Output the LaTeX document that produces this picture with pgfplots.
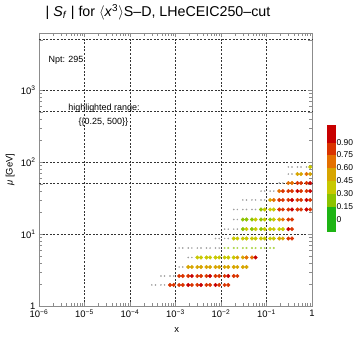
\documentclass[border=0pt]{standalone}
\usepackage{pgfplots}
\pgfplotsset{compat=1.18}
\usepackage{pgfplotstable}
\usepackage{fontspec}
\setmainfont{Liberation Sans}

% highlighted points: x, mu, |S_f|
\pgfplotstableread{
x mu v
0.0007586 1.96 0.82
0.000912 1.96 0.88
0.001202 1.96 0.86
0.001445 1.96 0.88
0.001905 1.96 0.90
0.002291 1.96 0.86
0.00302 1.96 0.87
0.003631 1.96 0.92
0.004786 1.96 0.88
0.005754 1.96 0.85
0.007586 1.96 0.90
0.00912 1.96 0.85
0.01202 1.96 0.86
0.01445 1.96 0.80
0.001202 2.61 0.84
0.001445 2.61 0.88
0.001905 2.61 0.86
0.002291 2.61 0.92
0.00302 2.61 0.87
0.003631 2.61 0.85
0.004786 2.61 0.88
0.005754 2.61 0.91
0.007586 2.61 0.86
0.00912 2.61 0.84
0.01202 2.61 0.88
0.01445 2.61 0.92
0.01905 2.61 0.85
0.02291 2.61 0.80
0.001905 3.48 0.47
0.002291 3.48 0.50
0.00302 3.48 0.48
0.003631 3.48 0.52
0.004786 3.48 0.47
0.005754 3.48 0.50
0.007586 3.48 0.49
0.00912 3.48 0.52
0.01202 3.48 0.48
0.01445 3.48 0.50
0.01905 3.48 0.47
0.02291 3.48 0.51
0.0302 3.48 0.49
0.03631 3.48 0.46
0.00302 4.72 0.40
0.003631 4.72 0.42
0.004786 4.72 0.38
0.005754 4.72 0.41
0.007586 4.72 0.40
0.00912 4.72 0.43
0.01202 4.72 0.40
0.01445 4.72 0.42
0.01905 4.72 0.44
0.02291 4.72 0.47
0.0302 4.72 0.55
0.03631 4.72 0.62
0.04786 4.72 0.72
0.05754 4.72 0.93
0.01905 8.66 0.36
0.02291 8.66 0.38
0.0302 8.66 0.35
0.03631 8.66 0.40
0.04786 8.66 0.37
0.05754 8.66 0.39
0.07586 8.66 0.36
0.0912 8.66 0.41
0.1202 8.66 0.38
0.1445 8.66 0.42
0.1905 8.66 0.50
0.2291 8.66 0.46
0.302 8.66 0.85
0.3631 8.66 0.80
0.0302 11.7 0.28
0.03631 11.7 0.31
0.04786 11.7 0.29
0.05754 11.7 0.32
0.07586 11.7 0.28
0.0912 11.7 0.33
0.1202 11.7 0.30
0.1445 11.7 0.34
0.1905 11.7 0.31
0.2291 11.7 0.36
0.302 11.7 0.92
0.3631 11.7 0.88
0.0302 15.9 0.27
0.03631 15.9 0.29
0.04786 15.9 0.28
0.05754 15.9 0.30
0.07586 15.9 0.28
0.0912 15.9 0.31
0.1202 15.9 0.29
0.1445 15.9 0.33
0.1905 15.9 0.55
0.2291 15.9 0.62
0.302 15.9 0.80
0.3631 15.9 0.86
0.07586 21.9 0.28
0.0912 21.9 0.30
0.1202 21.9 0.32
0.1445 21.9 0.42
0.1905 21.9 0.84
0.2291 21.9 0.88
0.302 21.9 0.86
0.3631 21.9 0.91
0.4786 21.9 0.85
0.5754 21.9 0.88
0.7586 21.9 0.90
0.912 21.9 0.86
0.1202 29.7 0.55
0.1445 29.7 0.66
0.1905 29.7 0.82
0.2291 29.7 0.88
0.302 29.7 0.86
0.3631 29.7 0.92
0.4786 29.7 0.85
0.5754 29.7 0.88
0.7586 29.7 0.91
0.912 29.7 0.86
0.1905 39.5 0.70
0.2291 39.5 0.80
0.302 39.5 0.86
0.3631 39.5 0.88
0.4786 39.5 0.92
0.5754 39.5 0.85
0.7586 39.5 0.88
0.912 39.5 0.90
0.302 51.1 0.60
0.3631 51.1 0.70
0.4786 51.1 0.84
0.5754 51.1 0.88
0.7586 51.1 0.86
0.912 51.1 0.90
0.4786 68.1 0.50
0.5754 68.1 0.55
0.7586 68.1 0.62
0.912 68.1 0.50
0.912 85.3 0.30
}\bigpts

% points below the highlighted range, drawn small and grey
\pgfplotstableread{
x mu
0.000302 1.96
0.0003631 1.96
0.0004786 1.96
0.0005754 1.96
0.0004786 2.61
0.0005754 2.61
0.0007586 2.61
0.000912 2.61
0.001202 3.48
0.001445 3.48
0.001905 4.72
0.002291 4.72
0.001202 6.39
0.001445 6.39
0.001905 6.39
0.002291 6.39
0.00302 6.39
0.003631 6.39
0.004786 6.39
0.005754 6.39
0.007586 6.39
0.00912 6.39
0.007586 8.66
0.00912 8.66
0.01202 8.66
0.01445 8.66
0.01202 11.7
0.01445 11.7
0.01905 11.7
0.02291 11.7
0.01905 15.9
0.02291 15.9
0.01905 21.9
0.02291 21.9
0.0302 21.9
0.03631 21.9
0.04786 21.9
0.05754 21.9
0.0302 29.7
0.03631 29.7
0.04786 29.7
0.05754 29.7
0.07586 29.7
0.0912 29.7
0.07586 39.5
0.0912 39.5
0.1202 39.5
0.1445 39.5
0.1905 51.1
0.2291 51.1
0.302 68.1
0.3631 68.1
0.302 85.3
0.3631 85.3
0.4786 85.3
0.5754 85.3
0.7586 85.3
}\graypts

% small coloured points (just under the highlighted range)
\pgfplotstableread{
x mu v
0.01202 6.39 0.20
0.01445 6.39 0.21
0.01905 6.39 0.20
0.02291 6.39 0.22
0.0302 6.39 0.21
0.03631 6.39 0.20
0.04786 6.39 0.22
0.05754 6.39 0.21
0.07586 6.39 0.20
0.0912 6.39 0.22
0.1202 6.39 0.21
0.1445 6.39 0.20
}\smallpts

\pgfplotsset{
  colormap={sens}{
    rgb255(0pt)=(30,180,20);
    rgb255(6pt)=(140,195,0);
    rgb255(9pt)=(200,200,0);
    rgb255(12pt)=(215,165,0);
    rgb255(15pt)=(228,112,0);
    rgb255(18pt)=(218,52,0);
    rgb255(21pt)=(200,0,0);
    rgb255(25pt)=(200,0,0)
  }
}

\begin{document}
\begin{tikzpicture}
\begin{axis}[
  at={(0,0)}, anchor=south west,
  scale only axis, width=273bp, height=273bp,
  xmode=log, ymode=log,
  xmin=1e-6, xmax=1, ymin=1, ymax=6200,
  xtick={1e-6,1e-5,1e-4,1e-3,1e-2,1e-1,1},
  xticklabels={10\textsuperscript{−6},10\textsuperscript{−5},10\textsuperscript{−4},10\textsuperscript{−3},10\textsuperscript{−2},10\textsuperscript{−1},1},
  ytick={1,10,100,1000},
  yticklabels={1,10\textsuperscript{1},10\textsuperscript{2},10\textsuperscript{3}},
  extra y ticks={50,500,5000},
  extra y tick labels={},
  extra y tick style={grid=major},
  grid=major,
  major grid style={black!80, dash pattern=on 2pt off 1.6pt, line width=0.45pt},
  axis line style={black!45},
  tick style={black!45},
  tick align=inside,
  ticklabel style={font=\fontsize{9.5}{11}\selectfont},
  xlabel={x},
  ylabel={\textit{μ} [GeV]},
  label style={font=\fontsize{9.5}{11}\selectfont},
  xlabel style={at={(axis description cs:0.505,-0.088)}, anchor=center},
  ylabel style={at={(axis description cs:-0.106,0.5)}, anchor=center},
  colormap name=sens,
  colormap access=piecewise constant,
  point meta min=-0.15, point meta max=1.1,
  colorbar,
  colorbar style={
    at={(parent axis.north east)}, anchor=north west,
    xshift=6.5bp, yshift=-92bp,
    scale only axis, width=8bp, height=107bp,
    ytick={0,0.15,0.3,0.45,0.6,0.75,0.9},
    yticklabels={0,0.15,0.30,0.45,0.60,0.75,0.90},
    yticklabel style={font=\fontsize{8.5}{10}\selectfont, xshift=-2bp},
    major tick length=0pt,
    axis line style={draw=none},
  },
]
\addplot[only marks, mark=*, mark size=0.55bp, mark options={draw=gray!75, fill=gray!75}]
  table[x=x, y=mu] {\graypts};
\addplot[scatter, only marks, mark=*, mark size=0.8bp, point meta=explicit,
  scatter/use mapped color={draw=mapped color!70, fill=mapped color!70}]
  table[x=x, y=mu, meta=v] {\smallpts};
\addplot[scatter, only marks, mark=*, mark size=1.8bp, point meta=explicit,
  scatter/use mapped color={draw=mapped color, fill=mapped color}]
  table[x=x, y=mu, meta=v] {\bigpts};
\node[font=\fontsize{9}{11}\selectfont] at (rel axis cs:0.099,0.90) {Npt: 295};
\node[font=\fontsize{9}{11}\selectfont] at (rel axis cs:0.238,0.725) {highlighted range:};
\node[font=\fontsize{9}{11}\selectfont] at (rel axis cs:0.236,0.674) {\{\{0.25, 500\}\}};
\end{axis}
\node[font=\fontsize{14.3}{16}\selectfont] at (119bp,294bp)
  {| \textit{S}\textsubscript{\textit{f}} | for $\langle$\textit{x}\textsuperscript{3}$\rangle$S–D, LHeCEIC250–cut};
\pgfresetboundingbox
\useasboundingbox (-39bp,-34bp) rectangle (321bp,306bp);
\end{tikzpicture}
\end{document}
